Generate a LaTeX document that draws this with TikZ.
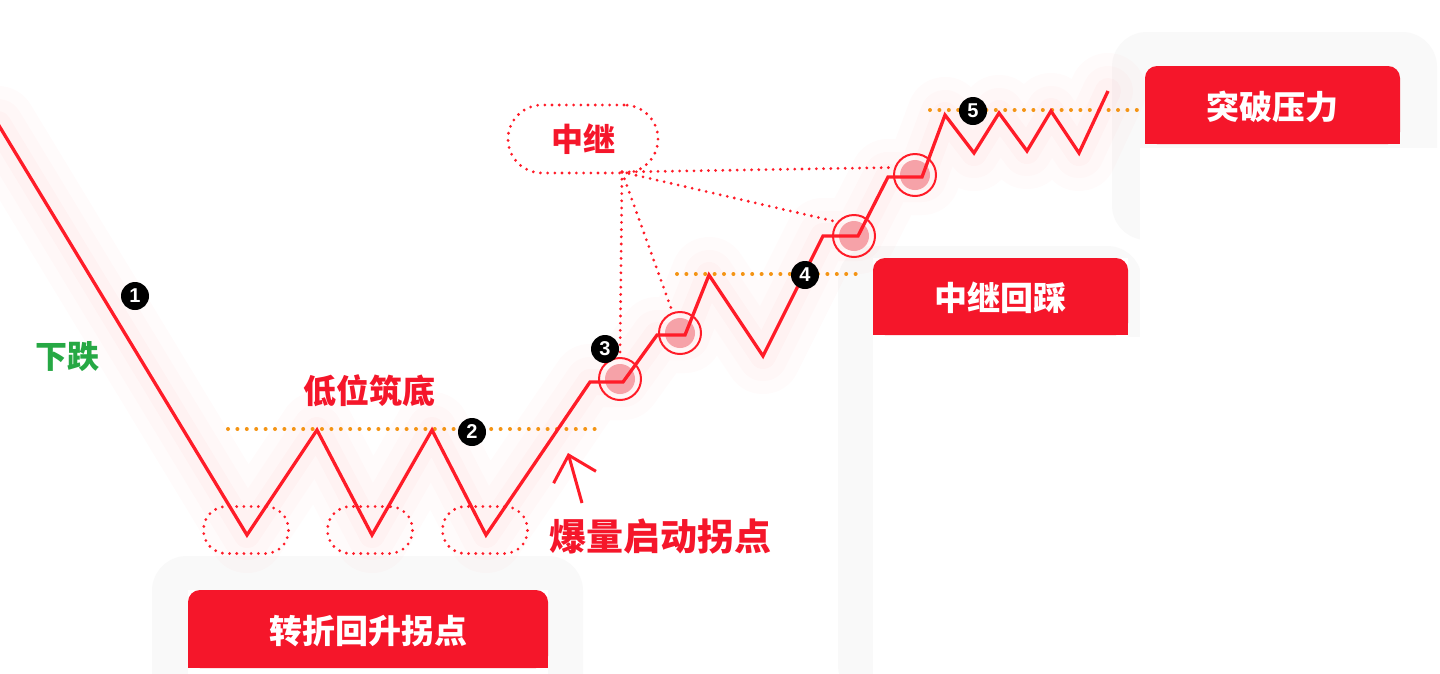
\documentclass[tikz,border=0pt]{standalone}
\usepackage{fontspec}
\newfontfamily\cjk{Noto Sans CJK SC}
\newfontfamily\numf{Liberation Sans}
\usetikzlibrary{arrows.meta}
\definecolor{linered}{RGB}{255,28,40}
\definecolor{boxred}{RGB}{245,22,42}
\definecolor{dotorange}{RGB}{244,148,20}
\definecolor{greentxt}{RGB}{38,168,68}
\definecolor{pinkfill}{RGB}{246,162,168}
\definecolor{shadowgray}{RGB}{249,249,249}
\begin{document}
\begin{tikzpicture}[x=1pt,y=-1pt,
  mainline/.style={draw=linered, line width=3.3pt},
  glowA/.style={draw=linered, line width=76pt, opacity=0.014, line join=round, line cap=round},
  glowB/.style={draw=linered, line width=50pt, opacity=0.017, line join=round, line cap=round},
  glowC/.style={draw=linered, line width=26pt, opacity=0.02, line join=round, line cap=round},
  ring/.style={circle, draw=linered, line width=2pt, minimum size=42pt, inner sep=0pt},
  reddot/.style={draw=linered, line width=3.1pt, line cap=round, dash pattern=on 0pt off 7.2pt},
  orangedot/.style={draw=dotorange, line width=4pt, line cap=round, dash pattern=on 0pt off 9.4pt},
  valleybox/.style={reddot, rounded corners=23pt, minimum width=85pt, minimum height=47pt, inner sep=0pt},
  relaybox/.style={reddot, rounded corners=34pt, minimum width=150pt, minimum height=68pt, inner sep=0pt,
    text=boxred, font=\cjk\bfseries\fontsize{32}{32}\selectfont},
  marker/.style={circle, fill=black, minimum size=28pt, inner sep=0pt, text=white,
    font=\numf\bfseries\fontsize{20}{20}\selectfont},
  hdrtext/.style={text=white, font=\cjk\bfseries\fontsize{33}{33}\selectfont, inner sep=0pt},
  redlabel/.style={text=boxred, font=\cjk\bfseries\fontsize{33}{33}\selectfont, inner sep=0pt},
  greenlabel/.style={text=greentxt, font=\cjk\bfseries\fontsize{32}{32}\selectfont, inner sep=0pt},
  arrowline/.style={draw=linered, line width=3pt, -{Straight Barb[length=23pt,width=44pt]}}
]
\fill[white] (0,0) rectangle (1440,673);
\useasboundingbox (0,0) rectangle (1440,673);

% card shadows
\fill[shadowgray, rounded corners=35pt] (152,556) rectangle (583,720);
\fill[shadowgray, rounded corners=35pt] (838,246) rectangle (1142,700);
\fill[shadowgray, rounded corners=35pt] (1112,32) rectangle (1437,240);
% card bodies
\fill[white] (188,590) rectangle (548,700);
\fill[white] (873,258) rectangle (1128,700);
\fill[white] (1140,148) rectangle (1440,700);
\fill[white] (1128,337) rectangle (1440,700);
% headers
\fill[boxred, rounded corners=12pt] (188,590) rectangle (548,668);
\fill[boxred] (188,620) rectangle (548,668);
\fill[boxred, rounded corners=12pt] (873,258) rectangle (1128,335);
\fill[boxred] (873,290) rectangle (1128,335);
\fill[boxred, rounded corners=12pt] (1145,66) rectangle (1400,144);
\fill[boxred] (1145,100) rectangle (1400,144);
\node[hdrtext] (h1) at (368,631) {转折回升拐点};
\node[hdrtext] (h2) at (1000,298) {中继回踩};
\node[hdrtext] (h3) at (1272,107) {突破压力};

% path vertices
\coordinate (p0) at (-2,124);
\coordinate (v1) at (247,535);
\coordinate (t1) at (317,430);
\coordinate (v2) at (372,535);
\coordinate (t2) at (432,430);
\coordinate (v3) at (486,535);
\coordinate (a1) at (590,382);
\coordinate (a2) at (623,382);
\coordinate (b1) at (657,335);
\coordinate (b2) at (685,335);
\coordinate (t3) at (709,275);
\coordinate (v4) at (763,356);
\coordinate (q1) at (823,236);
\coordinate (q2) at (858,236);
\coordinate (d1) at (888,177);
\coordinate (d2) at (922,177);
\coordinate (t4) at (945,115);
\coordinate (v5) at (974,153);
\coordinate (t5) at (999,113);
\coordinate (v6) at (1027,151);
\coordinate (t6) at (1051,111);
\coordinate (v7) at (1079,153);
\coordinate (e) at (1108,91);

% glow
\foreach \g in {glowA,glowB,glowC}{
\draw[\g] (p0) -- (v1) -- (t1) -- (v2) -- (t2) -- (v3) -- (a1) -- (a2) -- (b1) -- (b2) -- (t3) -- (v4) -- (q1) -- (q2) -- (d1) -- (d2) -- (t4) -- (v5) -- (t5) -- (v6) -- (t6) -- (v7) -- (e);
}

% relay circles
\fill[pinkfill] (620,379) circle (15);
\fill[pinkfill] (680,333) circle (15);
\fill[pinkfill] (854,236) circle (15);
\fill[pinkfill] (915,175) circle (15);
\node[ring] (c1) at (620,379) {};
\node[ring] (c2) at (680,333) {};
\node[ring] (c3) at (854,236) {};
\node[ring] (c4) at (915,175) {};

% relay label and connectors
\node[relaybox] (relay) at (583,139) {中继};
\coordinate (m) at (622,172);
\draw[reddot] (m) -- (c1.north);
\draw[reddot] (m) -- (c2);
\draw[reddot] (m) -- (c3.140);
\draw[reddot] (m) -- (c4.160);

% valley boxes
\node[valleybox] (e1) at (246,530) {};
\node[valleybox] (e2) at (370,530) {};
\node[valleybox] (e3) at (485,530) {};

% orange levels
\coordinate (o1a) at (228,429); \coordinate (o1b) at (597,429);
\coordinate (o2a) at (677,274); \coordinate (o2b) at (858,274);
\coordinate (o3a) at (930,110); \coordinate (o3b) at (1145,110);
\draw[orangedot] (o1a) -- (o1b);
\draw[orangedot] (o2a) -- (o2b);
\draw[orangedot] (o3a) -- (o3b);

% main line
\draw[mainline] (p0) -- (v1) -- (t1) -- (v2) -- (t2) -- (v3) -- (a1) -- (a2) -- (b1) -- (b2) -- (t3) -- (v4) -- (q1) -- (q2) -- (d1) -- (d2) -- (t4) -- (v5) -- (t5) -- (v6) -- (t6) -- (v7) -- (e);

% markers
\node[marker] (n1) at (135,296) {1};
\node[marker] (n2) at (472,432) {2};
\node[marker] (n3) at (605,349) {3};
\node[marker] (n4) at (805,275) {4};
\node[marker] (n5) at (973,111) {5};

% labels
\node[greenlabel] (fall) at (67,357) {下跌};
\node[redlabel] (low) at (369,391) {低位筑底};
\node[redlabel, font=\cjk\bfseries\fontsize{37}{37}\selectfont] (boom) at (660,536) {爆量启动拐点};

% arrow
\coordinate (arS) at (582,503);
\coordinate (arT) at (568,453);
\draw[arrowline] (arS) -- (arT);
\end{tikzpicture}
\end{document}
